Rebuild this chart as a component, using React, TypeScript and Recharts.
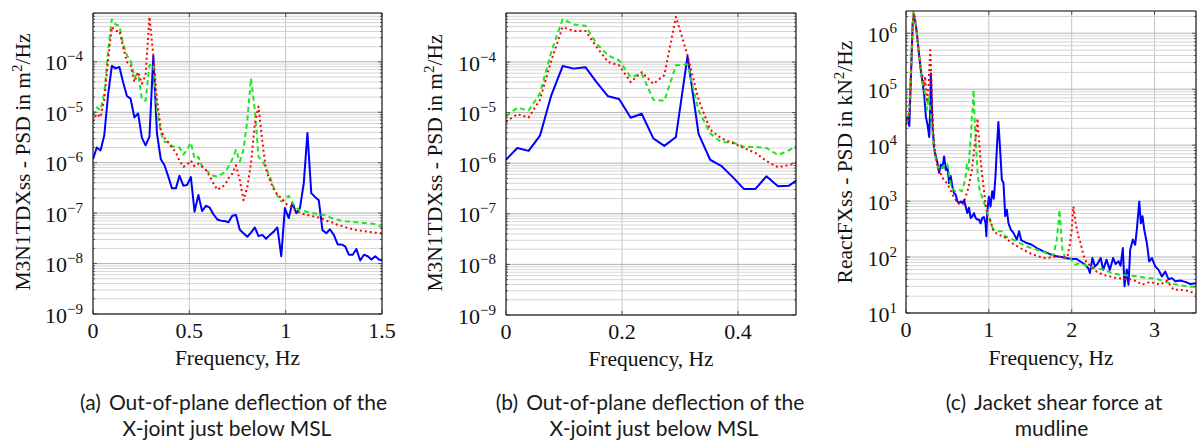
import React from "react";
import { LineChart, Line, XAxis, YAxis, CartesianGrid } from "recharts";

// Panels (a) and (b): M3N1TDXss spectra, same data, (b) is zoomed to 0..0.5 Hz
const deflFreq = [
  0, 0.0195, 0.039, 0.0586, 0.0781, 0.0977, 0.117, 0.137, 0.156, 0.176,
  0.195, 0.215, 0.234, 0.254, 0.273, 0.293, 0.313, 0.332, 0.352, 0.371,
  0.391, 0.41, 0.43, 0.449, 0.469, 0.488, 0.508, 0.527, 0.547, 0.566,
  0.586, 0.605, 0.625, 0.645, 0.664, 0.684, 0.703, 0.723, 0.742, 0.762,
  0.781, 0.801, 0.82, 0.84, 0.859, 0.879, 0.898, 0.918, 0.938, 0.957,
  0.977, 0.996, 1.016, 1.035, 1.055, 1.074, 1.094, 1.113, 1.133, 1.152,
  1.172, 1.191, 1.211, 1.23, 1.25, 1.27, 1.289, 1.309, 1.328, 1.348,
  1.367, 1.387, 1.406, 1.426, 1.445, 1.465, 1.484, 1.504,
];
const deflBlue = [
  1.17e-6, 2.0e-6, 1.75e-6, 3.5e-6, 2.2e-5, 8.3e-5, 7.4e-5, 7.9e-5, 4.0e-5, 2.1e-5,
  1.86e-5, 7.9e-6, 9.5e-6, 3.1e-6, 2.2e-6, 3.3e-6, 1.3e-4, 3.8e-6, 1.17e-6, 8.9e-7,
  5.3e-7, 3.1e-7, 3.1e-7, 5.5e-7, 3.5e-7, 3.6e-7, 5.2e-7, 1.07e-7, 2.3e-7, 1.1e-7,
  1.4e-7, 1.3e-7, 9.5e-8, 7.5e-8, 7.1e-8, 7.0e-8, 6.6e-8, 8.9e-8, 9.2e-8, 4.7e-8,
  4.0e-8, 3.4e-8, 4.1e-8, 5.2e-8, 3.5e-8, 3.7e-8, 3.1e-8, 3.7e-8, 4.3e-8, 5.2e-8,
  1.4e-8, 1.26e-7, 8.0e-8, 1.6e-7, 1.0e-7, 1.26e-7, 3.9e-7, 3.9e-6, 2.5e-7, 2.1e-7,
  1.8e-7, 4.6e-8, 4.0e-8, 4.8e-8, 3.7e-8, 2.4e-8, 2.4e-8, 2.2e-8, 1.5e-8, 1.5e-8,
  1.95e-8, 1.15e-8, 1.5e-8, 1.4e-8, 1.2e-8, 1.4e-8, 1.2e-8, 1.15e-8,
];
const deflGreen = [
  8.5e-6, 1.25e-5, 1.1e-5, 2.4e-5, 1.6e-4, 7.0e-4, 5.5e-4, 5.2e-4, 2.3e-4, 1.35e-4,
  1.08e-4, 5.0e-5, 5.9e-5, 1.8e-5, 1.7e-5, 8.6e-5, 9.0e-5, 1.1e-5, 3.9e-6, 2.6e-6,
  2.6e-6, 2.1e-6, 2.1e-6, 2.0e-6, 1.45e-6, 1.8e-6, 2.5e-6, 1.2e-6, 1.3e-6, 8.3e-7,
  7.1e-7, 6.2e-7, 5.5e-7, 5.3e-7, 5.8e-7, 6.6e-7, 8.3e-7, 1.17e-6, 1.8e-6, 1.05e-6,
  1.8e-6, 7.0e-6, 4.7e-5, 1.1e-5, 1.3e-6, 1.1e-6, 7.8e-7, 5.3e-7, 3.2e-7, 2.2e-7,
  1.7e-7, 1.9e-7, 2.2e-7, 1.6e-7, 1.3e-7, 1.1e-7, 1.1e-7, 1.05e-7, 1.0e-7, 9.8e-8,
  9.5e-8, 9.2e-8, 9.0e-8, 8.2e-8, 7.8e-8, 7.4e-8, 7.1e-8, 6.9e-8, 6.8e-8, 6.7e-8,
  6.6e-8, 6.5e-8, 6.4e-8, 6.3e-8, 6.2e-8, 6.0e-8, 5.6e-8, 5.2e-8,
];
const deflRed = [
  6.6e-6, 9.3e-6, 8.0e-6, 1.8e-5, 1.07e-4, 4.9e-4, 4.1e-4, 4.1e-4, 2.0e-4, 1.0e-4,
  8.6e-5, 4.0e-5, 6.3e-5, 3.7e-5, 5.5e-5, 7.8e-4, 1.35e-4, 1.8e-5, 4.6e-6, 3.1e-6,
  2.5e-6, 2.0e-6, 1.6e-6, 1.1e-6, 8.3e-7, 9.2e-7, 1.1e-6, 8.5e-7, 9.5e-7, 8.5e-7,
  7.2e-7, 5.5e-7, 3.9e-7, 2.9e-7, 3.2e-7, 3.6e-7, 4.9e-7, 6.1e-7, 8.9e-7, 4.5e-7,
  1.8e-7, 3.3e-7, 9.6e-7, 6.0e-6, 1.3e-5, 2.6e-6, 7.4e-7, 4.5e-7, 3.0e-7, 2.3e-7,
  2.0e-7, 1.6e-7, 1.4e-7, 1.3e-7, 1.1e-7, 1.0e-7, 9.6e-8, 9.2e-8, 8.8e-8, 8.5e-8,
  8.2e-8, 7.8e-8, 7.1e-8, 6.8e-8, 6.3e-8, 5.8e-8, 5.6e-8, 5.3e-8, 5.0e-8, 4.8e-8,
  4.6e-8, 4.5e-8, 4.4e-8, 4.3e-8, 4.2e-8, 4.1e-8, 4.0e-8, 3.9e-8,
];

// Panel (c): ReactFXss jacket shear force spectra
const shearFreqBlue = [
  0, 0.02, 0.04, 0.06, 0.08, 0.095, 0.12, 0.14, 0.16, 0.18,
  0.2, 0.22, 0.24, 0.26, 0.28, 0.29, 0.3, 0.32, 0.34, 0.36,
  0.38, 0.4, 0.42, 0.44, 0.46, 0.48, 0.5, 0.52, 0.54, 0.56,
  0.58, 0.6, 0.62, 0.64, 0.66, 0.68, 0.7, 0.72, 0.74, 0.76,
  0.78, 0.8, 0.82, 0.84, 0.86, 0.88, 0.9, 0.92, 0.94, 0.96,
  0.97, 0.98, 1.0, 1.02, 1.04, 1.06, 1.08, 1.1, 1.115, 1.136,
  1.157, 1.177, 1.197, 1.217, 1.237, 1.265, 1.297, 1.337, 1.365, 1.39,
  1.418, 1.458, 1.518, 1.578, 1.659, 1.739, 1.819, 1.88, 1.92, 2.0,
  2.06, 2.1, 2.16, 2.2, 2.22, 2.25, 2.28, 2.31, 2.35, 2.38,
  2.42, 2.46, 2.5, 2.53, 2.565, 2.59, 2.617, 2.637, 2.665, 2.685,
  2.706, 2.738, 2.766, 2.786, 2.815, 2.835, 2.855, 2.875, 2.907, 2.935,
  2.968, 3.008, 3.048, 3.089, 3.129, 3.169, 3.21, 3.25, 3.31, 3.37,
  3.43, 3.5,
];
const shearBlue = [
  2.3e4, 3.2e4, 2.2e4, 1.7e5, 1.5e6, 2.1e6, 1.4e6, 7.6e5, 3.8e5, 2.1e5,
  1.3e5, 7.9e4, 3.2e4, 2.3e4, 1.4e4, 3.5e4, 1.9e5, 2.2e4, 8300, 6300,
  4800, 3200, 4500, 3900, 6300, 3600, 4200, 2100, 2800, 1800,
  1400, 1300, 980, 920, 980, 920, 1050, 800, 610, 760,
  500, 530, 610, 500, 470, 470, 400, 500, 520, 400,
  235, 610, 1200, 800, 1500, 1100, 2800, 1.1e4, 2.6e4, 8300,
  2400, 2100, 540, 700, 400, 310, 270, 205, 290, 200,
  190, 178, 166, 145, 126, 113, 103, 100, 96, 92,
  92, 84, 73, 63, 52, 96, 68, 75, 96, 59,
  90, 59, 96, 75, 84, 70, 145, 30, 60, 32,
  135, 205, 166, 310, 980, 400, 535, 310, 178, 84,
  96, 68, 59, 45, 55, 40, 42, 37, 38, 36,
  33, 34,
];
const shearFreqGreen = [
  0, 0.02, 0.04, 0.06, 0.08, 0.092, 0.112, 0.133, 0.153, 0.18,
  0.205, 0.22, 0.24, 0.253, 0.273, 0.293, 0.305, 0.32, 0.333, 0.353,
  0.373, 0.414, 0.45, 0.494, 0.514, 0.534, 0.554, 0.594, 0.635, 0.675,
  0.715, 0.735, 0.755, 0.767, 0.783, 0.795, 0.807, 0.815, 0.831, 0.847,
  0.867, 0.888, 0.916, 0.944, 0.976, 0.996, 1.036, 1.056, 1.1, 1.157,
  1.197, 1.249, 1.337, 1.45, 1.578, 1.679, 1.739, 1.78, 1.819, 1.84,
  1.851, 1.865, 1.888, 1.92, 1.98, 2.04, 2.1, 2.18, 2.28, 2.38,
  2.48, 2.585, 2.685, 2.806, 2.907, 3.0, 3.109, 3.23, 3.39, 3.5,
];
const shearGreen = [
  2.3e4, 2.8e4, 4.3e4, 2.2e5, 1.3e6, 2.6e6, 1.6e6, 1.0e6, 5.0e5, 1.9e5,
  1.2e5, 9.8e4, 6.5e4, 4.3e4, 7.4e4, 4.3e4, 2.8e4, 1.6e4, 1.0e4, 6300,
  4500, 3600, 4200, 4800, 3600, 2200, 1700, 1500, 1600, 1500,
  2400, 4500, 3600, 7200, 1.4e4, 3.2e4, 4.9e4, 9.8e4, 2.5e4, 8300,
  2800, 1600, 1200, 920, 700, 540, 355, 310, 290, 290,
  235, 218, 190, 155, 135, 120, 105, 110, 200, 400,
  700, 400, 135, 96, 96, 73, 78, 70, 63, 60,
  52, 48, 47, 45, 42, 42, 37, 33, 30, 29,
];
const shearFreqRed = [
  0, 0.02, 0.04, 0.06, 0.08, 0.092, 0.112, 0.133, 0.16, 0.18,
  0.2, 0.22, 0.23, 0.253, 0.273, 0.285, 0.293, 0.305, 0.317, 0.333,
  0.353, 0.373, 0.394, 0.414, 0.454, 0.494, 0.534, 0.574, 0.614, 0.655,
  0.695, 0.735, 0.755, 0.795, 0.823, 0.847, 0.863, 0.88, 0.896, 0.916,
  0.936, 0.956, 0.984, 1.016, 1.056, 1.116, 1.177, 1.277, 1.377, 1.518,
  1.598, 1.679, 1.78, 1.863, 1.948, 1.98, 2.0, 2.02, 2.048, 2.08,
  2.108, 2.14, 2.18, 2.23, 2.3, 2.38, 2.46, 2.54, 2.62, 2.706,
  2.786, 2.847, 2.948, 3.069, 3.149, 3.23, 3.31, 3.39, 3.47, 3.5,
];
const shearRed = [
  2.3e4, 2.8e4, 3.7e4, 1.9e5, 1.3e6, 2.3e6, 1.7e6, 8.7e5, 3.8e5, 2.2e5,
  1.7e5, 1.1e5, 1.7e5, 6.5e4, 1.1e5, 2.9e5, 5.0e5, 1.7e5, 4.3e4, 1.4e4,
  7200, 4800, 3600, 3200, 2400, 2100, 1600, 1200, 980, 850,
  900, 1400, 1800, 3600, 8300, 1.6e4, 3.0e4, 1.3e4, 6300, 3200,
  1800, 980, 540, 465, 290, 250, 235, 178, 145, 113,
  103, 96, 100, 100, 100, 178, 310, 800, 400, 235,
  178, 110, 78, 70, 55, 48, 45, 42, 41, 40,
  37, 32, 36, 32, 38, 26, 26, 25, 23, 22,
];

const deflXTicks = [0, 0.5, 1, 1.5];
const deflZoomXTicks = [0, 0.2, 0.4];
const shearXTicks = [0, 1, 2, 3];

const SERIF = "'Liberation Serif', 'Times New Roman', serif";
const SANS = "Lato, 'Open Sans', sans-serif";
const MINUS = "\u2212";

const zip = (f: number[], v: number[]) =>
  f.slice(0, Math.min(f.length, v.length)).map((x, i) => ({ f: x, v: v[i] }));

function logGrid(lo: number, hi: number) {
  const majors: number[] = [];
  const minors: number[] = [];
  for (let e = Math.floor(Math.log10(lo)); e <= Math.ceil(Math.log10(hi)); e++) {
    for (let m = 1; m <= 9; m++) {
      const v = m * Math.pow(10, e);
      if (v < lo * 0.999 || v > hi * 1.001) continue;
      (m === 1 ? majors : minors).push(v);
    }
  }
  return { majors, minors };
}

const isDecade = (v: number) => {
  const l = Math.log10(v);
  return Math.abs(l - Math.round(l)) < 1e-6;
};

function LeftTick(p: any) {
  const { x, y, payload, gap } = p;
  const v = payload.value;
  const major = isDecade(v);
  const e = Math.round(Math.log10(v));
  return (
    <g>
      <line x1={x} x2={x + (major ? 4 : 2)} y1={y} y2={y} stroke="#333" strokeWidth={0.8} />
      {major && (
        <text x={x - gap} y={y + 8.5} textAnchor="end" fontFamily={SERIF} fontSize={22} fill="#111">
          10
          <tspan dy={-9} fontSize={15}>
            {e < 0 ? MINUS + -e : String(e)}
          </tspan>
        </text>
      )}
    </g>
  );
}

function RightTick(p: any) {
  const { x, y, payload } = p;
  const major = isDecade(payload.value);
  return <line x1={x} x2={x - (major ? 4 : 2)} y1={y} y2={y} stroke="#333" strokeWidth={0.8} />;
}

function BottomTick(p: any) {
  const { x, y, payload } = p;
  return (
    <g>
      <line x1={x} x2={x} y1={y} y2={y - 4} stroke="#333" strokeWidth={0.8} />
      <text x={x} y={y + 24} textAnchor="middle" fontFamily={SERIF} fontSize={22} fill="#111">
        {String(payload.value)}
      </text>
    </g>
  );
}

function TopTick(p: any) {
  const { x, y } = p;
  return <line x1={x} x2={x} y1={y} y2={y + 4} stroke="#333" strokeWidth={0.8} />;
}

interface SeriesDef {
  data: { f: number; v: number }[];
  color: string;
  width: number;
  dash?: string;
}

interface PanelProps {
  left: number;
  top: number;
  plotW: number;
  plotH: number;
  xDomain: [number, number];
  xTicks: number[];
  yDomain: [number, number];
  labelGap: number;
  series: SeriesDef[];
}

function Panel({ left, top, plotW, plotH, xDomain, xTicks, yDomain, labelGap, series }: PanelProps) {
  const YW = 62;
  const XH = 34;
  const RM = 20;
  const { majors, minors } = logGrid(yDomain[0], yDomain[1]);
  const yTicks = [...majors, ...minors].sort((a, b) => a - b);
  return (
    <div style={{ position: "absolute", left: left - YW, top: top - 1 }}>
      <LineChart
        width={YW + plotW + 1 + RM}
        height={1 + plotH + XH}
        margin={{ top: 0, right: RM, bottom: 0, left: 0 }}
      >
        <CartesianGrid horizontal={false} stroke="#c4c4c4" strokeWidth={1} />
        <CartesianGrid vertical={false} horizontalValues={minors} stroke="#d4d4d4" strokeWidth={1} />
        <CartesianGrid vertical={false} horizontalValues={majors} stroke="#b2b2b2" strokeWidth={1} />
        <XAxis
          dataKey="f"
          type="number"
          domain={xDomain}
          ticks={xTicks}
          allowDataOverflow
          interval={0}
          height={XH}
          tickSize={0}
          tickMargin={0}
          tickLine={false}
          axisLine={{ stroke: "#000", strokeWidth: 1 }}
          tick={(p: any) => <BottomTick {...p} />}
        />
        <XAxis
          xAxisId="top"
          orientation="top"
          dataKey="f"
          type="number"
          domain={xDomain}
          ticks={xTicks}
          allowDataOverflow
          interval={0}
          height={1}
          tickSize={0}
          tickMargin={0}
          tickLine={false}
          axisLine={{ stroke: "#000", strokeWidth: 1 }}
          tick={(p: any) => <TopTick {...p} />}
        />
        <YAxis
          scale="log"
          type="number"
          domain={yDomain}
          ticks={yTicks}
          allowDataOverflow
          interval={0}
          width={YW}
          tickSize={0}
          tickMargin={0}
          tickLine={false}
          axisLine={{ stroke: "#000", strokeWidth: 1 }}
          tick={(p: any) => <LeftTick {...p} gap={labelGap} />}
        />
        <YAxis
          yAxisId="right"
          orientation="right"
          scale="log"
          type="number"
          domain={yDomain}
          ticks={yTicks}
          allowDataOverflow
          interval={0}
          width={1}
          tickSize={0}
          tickMargin={0}
          tickLine={false}
          axisLine={{ stroke: "#000", strokeWidth: 1 }}
          tick={(p: any) => <RightTick {...p} />}
        />
        {series.map((s, i) => (
          <Line
            key={i}
            data={s.data}
            dataKey="v"
            type="linear"
            stroke={s.color}
            strokeWidth={s.width}
            strokeDasharray={s.dash}
            strokeLinejoin="round"
            dot={false}
            activeDot={false}
            isAnimationActive={false}
          />
        ))}
      </LineChart>
    </div>
  );
}

const BLUE = "#0000ff";
const GREEN = "#1ee61e";
const RED = "#ff0000";

export default function App() {
  const deflSeries: SeriesDef[] = [
    { data: zip(deflFreq, deflBlue), color: BLUE, width: 2 },
    { data: zip(deflFreq, deflGreen), color: GREEN, width: 2, dash: "5 3.5" },
    { data: zip(deflFreq, deflRed), color: RED, width: 2, dash: "2 3" },
  ];
  const shearSeries: SeriesDef[] = [
    { data: zip(shearFreqBlue, shearBlue), color: BLUE, width: 2 },
    { data: zip(shearFreqGreen, shearGreen), color: GREEN, width: 2, dash: "5 3.5" },
    { data: zip(shearFreqRed, shearRed), color: RED, width: 2, dash: "2 3" },
  ];
  const deflDomain: [number, number] = [1e-9, 9.3e-4];

  const yLabel = (x: number, cy: number, main: string) => (
    <text
      x={x}
      y={cy}
      transform={`rotate(-90 ${x} ${cy})`}
      textAnchor="middle"
      fontFamily={SERIF}
      fontSize={21.5}
      fill="#111"
    >
      {main}
      <tspan dy={-8} fontSize={15}>2</tspan>
      <tspan dy={8}>/Hz</tspan>
    </text>
  );

  const caption = (cx1: number, tag: string, line1: string, cx2: number, line2: string) => (
    <g fontFamily={SANS} fontSize={21} fill="#1a1a1a">
      <text x={cx1} y={410} textAnchor="middle">
        {tag}
        <tspan dx={8}>{line1}</tspan>
      </text>
      <text x={cx2} y={436} textAnchor="middle">
        {line2}
      </text>
    </g>
  );

  return (
    <div style={{ position: "absolute", left: 0, top: 0, width: 1200, height: 441, background: "#fff", overflow: "hidden" }}>
      <Panel
        left={93}
        top={13}
        plotW={289}
        plotH={301}
        xDomain={[0, 1.5]}
        xTicks={deflXTicks}
        yDomain={deflDomain}
        labelGap={10}
        series={deflSeries}
      />
      <Panel
        left={506}
        top={13}
        plotW={290}
        plotH={302}
        xDomain={[0, 0.5]}
        xTicks={deflZoomXTicks}
        yDomain={deflDomain}
        labelGap={10}
        series={deflSeries}
      />
      <Panel
        left={906}
        top={11}
        plotW={290}
        plotH={302}
        xDomain={[0, 3.5]}
        xTicks={shearXTicks}
        yDomain={[10, 2.5e6]}
        labelGap={9}
        series={shearSeries}
      />
      <svg
        width={1200}
        height={441}
        style={{ position: "absolute", left: 0, top: 0, pointerEvents: "none" }}
      >
        {yLabel(30, 162, "M3N1TDXss - PSD in m")}
        {yLabel(442, 163, "M3N1TDXss - PSD in m")}
        {yLabel(852, 162, "ReactFXss - PSD in kN")}
        <g fontFamily={SERIF} fontSize={21.5} fill="#111" textAnchor="middle">
          <text x={237.5} y={365}>Frequency, Hz</text>
          <text x={651} y={366}>Frequency, Hz</text>
          <text x={1051} y={365}>Frequency, Hz</text>
        </g>
        {caption(233.5, "(a)", "Out-of-plane deflection of the", 227, "X-joint just below MSL")}
        {caption(650, "(b)", "Out-of-plane deflection of the", 654, "X-joint just below MSL")}
        {caption(1054, "(c)", "Jacket shear force at", 1051.5, "mudline")}
      </svg>
    </div>
  );
}
